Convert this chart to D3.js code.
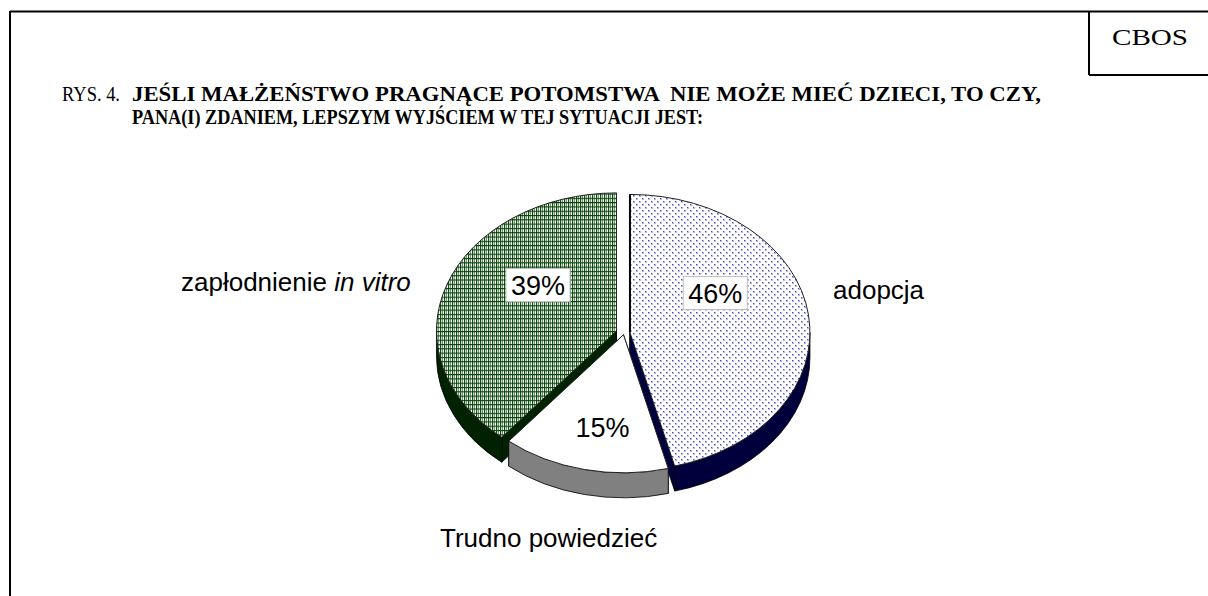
<!DOCTYPE html>
<html><head><meta charset="utf-8">
<script src="https://cdn.jsdelivr.net/npm/d3@7"></script>
<style>body{margin:0;background:#fff}svg{display:block}text{white-space:pre}</style>
</head><body>
<script>
const categories = ["adopcja", "Trudno powiedzieć", "zapłodnienie in vitro"];
const values = [46, 15, 39];
const valueLabels = ["46%", "15%", "39%"];
const titleLines = ["JEŚLI MAŁŻEŃSTWO PRAGNĄCE POTOMSTWA  NIE MOŻE MIEĆ DZIECI, TO CZY,", "PANA(I) ZDANIEM, LEPSZYM WYJŚCIEM W TEJ SYTUACJI JEST:"];
const figLabel = "RYS. 4.";
const brand = "CBOS";

const W = 1208, H = 596;
const svg = d3.select("body").append("svg").attr("width", W).attr("height", H);
const defs = svg.append("defs");

// patterns
const pb = defs.append("pattern").attr("id","pBlue").attr("patternUnits","userSpaceOnUse").attr("width",6).attr("height",6);
pb.append("rect").attr("width",6).attr("height",6).attr("fill","#fff");
pb.append("rect").attr("x",0).attr("y",0).attr("width",1.4).attr("height",1.4).attr("fill","#4646c8");
pb.append("rect").attr("x",3).attr("y",3).attr("width",1.4).attr("height",1.4).attr("fill","#4646c8");
pb.append("rect").attr("x",1.2).attr("y",1).attr("width",0.8).attr("height",0.8).attr("fill","#9a9ae0");
pb.append("rect").attr("x",4.2).attr("y",4).attr("width",0.8).attr("height",0.8).attr("fill","#9a9ae0");

const pg = defs.append("pattern").attr("id","pGreen").attr("patternUnits","userSpaceOnUse").attr("width",4).attr("height",4.3);
pg.append("rect").attr("width",4).attr("height",4.3).attr("fill","#fff");
pg.append("rect").attr("x",0).attr("y",0).attr("width",1.2).attr("height",4.3).attr("fill","#0e4f0e");
pg.append("rect").attr("x",2).attr("y",0).attr("width",1).attr("height",4.3).attr("fill","#6f986f");
pg.append("rect").attr("x",0).attr("y",0).attr("width",4).attr("height",1.1).attr("fill","#063f06");

const topFill = ["url(#pBlue)", "#ffffff", "url(#pGreen)"];
const sideFill = ["#00003c", "#808080", "#002200"];

// frame
const fr = svg.append("g").attr("stroke","#000").attr("stroke-width",2).attr("fill","none");
fr.append("line").attr("x1",10).attr("y1",11.5).attr("x2",W).attr("y2",11.5);
fr.append("line").attr("x1",10).attr("y1",11).attr("x2",10).attr("y2",H);
fr.append("line").attr("x1",1089).attr("y1",11).attr("x2",1089).attr("y2",75);
fr.append("line").attr("x1",1089).attr("y1",75).attr("x2",W).attr("y2",75);

svg.append("text").attr("x",1112).attr("y",44.5).attr("font-family","Liberation Serif, Times New Roman, serif")
  .attr("font-size",24).attr("textLength",76).attr("lengthAdjust","spacingAndGlyphs").text(brand);

// title
svg.append("text").attr("x",62).attr("y",101).attr("font-family","Liberation Serif, serif").attr("font-size",20)
  .attr("textLength",58).attr("lengthAdjust","spacingAndGlyphs").text(figLabel);
const tl = [[132,101,909],[132,124,571]];
titleLines.forEach((t,i)=>{
  svg.append("text").attr("x",tl[i][0]).attr("y",tl[i][1]).attr("font-family","Liberation Serif, serif")
    .attr("font-weight","bold").attr("font-size",21).attr("textLength",tl[i][2]).attr("lengthAdjust","spacingAndGlyphs").text(t);
});

// 3D pie
const cx = 624, cy = 333, a = 180, b = 138, depth = 25;
const explode = [6, 2.4, 8];
const pie = d3.pie().sort(null).startAngle(0).endAngle(2*Math.PI)(values);
const arcs = pie.map((d,i)=>{
  const mid = (d.startAngle + d.endAngle)/2;
  const ox = cx + explode[i]*Math.sin(mid);
  const oy = cy - explode[i]*Math.cos(mid)*(b/a);
  return {d, i, ox, oy, s: d.startAngle, e: d.endAngle, mid};
});
const pt = (o,t,dy=0)=>[o.ox + a*Math.sin(t), o.oy - b*Math.cos(t) + dy];

const walls = svg.append("g");
arcs.forEach(o=>{
  [o.s, o.e].forEach(t=>{
    const p = pt(o,t), q = pt(o,t,depth);
    walls.append("path").attr("d",`M${o.ox},${o.oy}L${p}L${q}L${o.ox},${o.oy+depth}Z`)
      .attr("fill",sideFill[o.i]).attr("stroke","#000").attr("stroke-width",0.8);
  });
});
arcs.forEach(o=>{
  const t0 = Math.max(o.s, Math.PI/2), t1 = Math.min(o.e, 3*Math.PI/2);
  if (t1 <= t0) return;
  const p0 = pt(o,t0), p1 = pt(o,t1), q1 = pt(o,t1,depth), q0 = pt(o,t0,depth);
  const large = (t1-t0) > Math.PI ? 1 : 0;
  walls.append("path").attr("d",`M${p0}A${a},${b} 0 ${large} 1 ${p1}L${q1}A${a},${b} 0 ${large} 0 ${q0}Z`)
    .attr("fill",sideFill[o.i]).attr("stroke","#000").attr("stroke-width",0.8);
});
arcs.forEach(o=>{
  const p0 = pt(o,o.s), p1 = pt(o,o.e);
  const large = (o.e-o.s) > Math.PI ? 1 : 0;
  svg.append("path").attr("d",`M${o.ox},${o.oy}L${p0}A${a},${b} 0 ${large} 1 ${p1}Z`)
    .attr("fill",topFill[o.i]).attr("stroke","#222").attr("stroke-width",1);
});
{
  const o = arcs[0], p0 = pt(o,o.s);
  svg.append("line").attr("x1",o.ox).attr("y1",o.oy).attr("x2",p0[0]).attr("y2",p0[1]).attr("stroke","#000").attr("stroke-width",2);
}

// value labels
const lblOff = [[0.474,-0.286,true],[-0.116,0.672,false],[-0.436,-0.332,true]];
arcs.forEach(o=>{
  const [u,v,box] = lblOff[o.i];
  const x = o.ox + u*a, y = o.oy + v*b;
  const g = svg.append("g");
  const t = g.append("text").attr("x",x).attr("y",y+9.7).attr("text-anchor","middle")
    .attr("font-family","Liberation Sans, Arial, sans-serif").attr("font-size",27).attr("fill","#000").text(valueLabels[o.i]);
  if (box) {
    const w = t.node().getComputedTextLength();
    g.insert("rect","text").attr("x",x-w/2-5).attr("y",y-16.5).attr("width",w+10).attr("height",33)
      .attr("fill","#fff").attr("stroke","#c0c0c0").attr("stroke-width",1);
  }
});

// category labels
const font = "Liberation Sans, Arial, sans-serif";
svg.append("text").attr("x",833).attr("y",299).attr("font-family",font).attr("font-size",26).text(categories[0]);
svg.append("text").attr("x",440).attr("y",547).attr("font-family",font).attr("font-size",26).text(categories[1]);
const parts = categories[2].split(" in ");
const zt = svg.append("text").attr("x",181).attr("y",291).attr("font-family",font).attr("font-size",26);
zt.append("tspan").text(parts[0] + " ");
zt.append("tspan").attr("font-style","italic").text("in " + parts[1]);
</script>
</body></html>
